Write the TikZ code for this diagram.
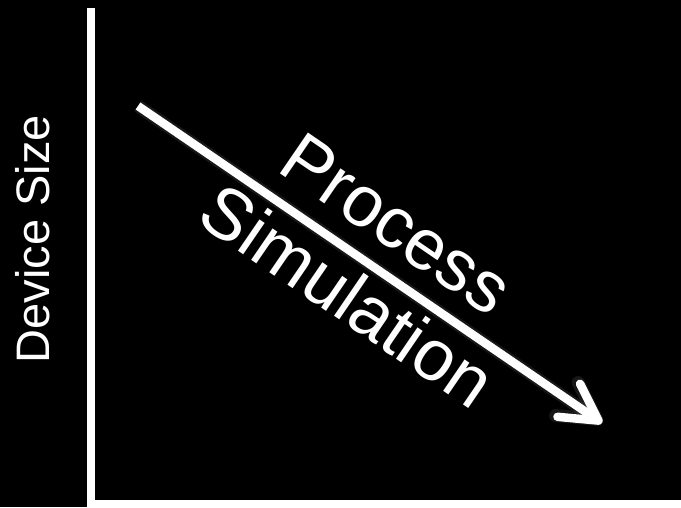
\documentclass[tikz,border=0pt]{standalone}
\usepackage{fontspec}
\setmainfont{Liberation Sans}
\usetikzlibrary{arrows.meta}

\begin{document}
\begin{tikzpicture}[
    x=1pt, y=-1pt,
    axis/.style={draw=white, line width=8pt},
    flow/.style={draw=white, line width=8.5pt, -{Straight Barb[length=36pt, width=40pt, round]}},
    glow/.style={flow, draw=gray, opacity=0.18, line width=13pt, shift={(-1pt,-3pt)}},
    label/.style={text=white, font=\fontsize{72}{72}\selectfont, inner sep=0pt, anchor=base}
]
\fill[black] (0,0) rectangle (681,507);
\useasboundingbox (0,0) rectangle (681,507);
% axes
\coordinate (top) at (91.3, 8);
\coordinate (corner) at (91.3, 503.5);
\coordinate (right) at (681, 503.5);
\draw[axis] (top) -- (corner |- 507,507);
\draw[axis, line width=7pt] (corner) -- (right);
% trend arrow
\coordinate (start) at (138, 106);
\coordinate (end) at (602, 423);
\draw[glow] (start) -- (end);
\draw[flow] (start) -- (end);
\node[label, rotate=-34.4] (process) at (383, 244) {Process};
\node[label, rotate=-34.4] (simulation) at (333.5, 316) {Simulation};
\node[label, font=\fontsize{47}{47}\selectfont, rotate=90] (size) at (49.5, 239) {Device Size};
\end{tikzpicture}
\end{document}
